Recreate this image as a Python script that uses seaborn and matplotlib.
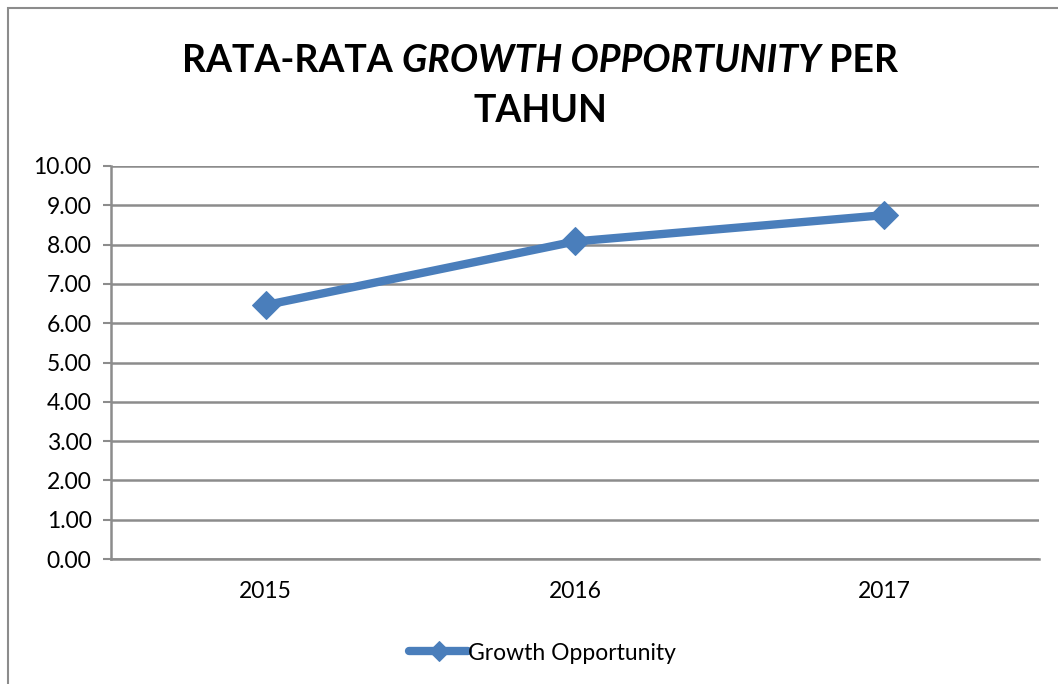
import pandas as pd
import matplotlib
matplotlib.use('Agg')
import matplotlib.pyplot as plt
import seaborn as sns
from matplotlib.patches import Rectangle

# data
years = ['2015', '2016', '2017']
growth = [6.46, 8.08, 8.75]
series_name = 'Growth Opportunity'
yticks = [0, 1, 2, 3, 4, 5, 6, 7, 8, 9, 10]

df = pd.DataFrame({'year': years, 'value': growth, 'series': series_name})

sns.set_style('white')
plt.rcParams['font.family'] = ['Lato', 'DejaVu Sans']
plt.rcParams['text.color'] = 'black'
plt.rcParams['xtick.color'] = 'black'
plt.rcParams['ytick.color'] = 'black'

blue = '#4A7EBB'
grid_c = '#8C8C8C'

fig = plt.figure(figsize=(10.58, 6.84), dpi=100)
ax = fig.add_axes([111 / 1058, 1 - 559 / 684, (1039 - 111) / 1058, (559 - 166) / 684])

sns.lineplot(data=df, x='year', y='value', hue='series', palette=[blue],
             marker='D', markersize=14, markeredgecolor=blue, linewidth=6,
             ax=ax, sort=False)

ax.set_xlim(-0.5, 2.5)
ax.set_ylim(0, 10)
ax.set_yticks(yticks)
ax.set_yticklabels([f'{v:.2f}' for v in yticks], fontsize=16.5)
ax.tick_params(axis='x', length=0, labelsize=16.5, pad=16, labelcolor='black')
ax.tick_params(axis='y', length=6, width=1.5, color=grid_c, left=True, pad=8,
               labelcolor='black')
ax.yaxis.grid(True, color=grid_c, linewidth=1.8)
ax.set_axisbelow(True)
for s in ['top', 'right']:
    ax.spines[s].set_visible(False)
for s in ['left', 'bottom']:
    ax.spines[s].set_color(grid_c)
    ax.spines[s].set_linewidth(1.8)
ax.set_xlabel('')
ax.set_ylabel('')

leg = ax.legend(loc='upper center', bbox_to_anchor=(0.465, -0.16), frameon=False,
                fontsize=16.5, handlelength=2.6, handletextpad=0.0)
for h in leg.get_lines():
    h.set_linewidth(6)
    h.set_markersize(10)
    h.set_markeredgecolor(blue)

# outer chart frame (cut off on right and bottom in reference)
fig.patches.append(Rectangle((8 / 1058, -0.1), 1.2, 1 - 8 / 684 + 0.1,
                             transform=fig.transFigure, fill=False,
                             edgecolor='#8C8C8C', linewidth=1.5))

# title with mixed bold / bold-italic pieces
fig.canvas.draw()
r = fig.canvas.get_renderer()
pieces = [('RATA-RATA ', 'normal'), ('GROWTH OPPORTUNITY', 'italic'), (' PER', 'normal')]
tsize = 27
texts = []
for s, st in pieces:
    t = fig.text(0, 1 - 72 / 684, s, fontsize=tsize, fontweight='bold', style=st,
                 va='baseline', ha='left', color='black')
    texts.append(t)
widths = [t.get_window_extent(r).width for t in texts]
total = sum(widths)
x0 = 540 - total / 2
for t, w in zip(texts, widths):
    t.set_x(x0 / 1058)
    x0 += w
fig.text(540 / 1058, 1 - 122 / 684, 'TAHUN', fontsize=tsize, fontweight='bold',
         va='baseline', ha='center', color='black')

fig.savefig('out.png', dpi=100)
